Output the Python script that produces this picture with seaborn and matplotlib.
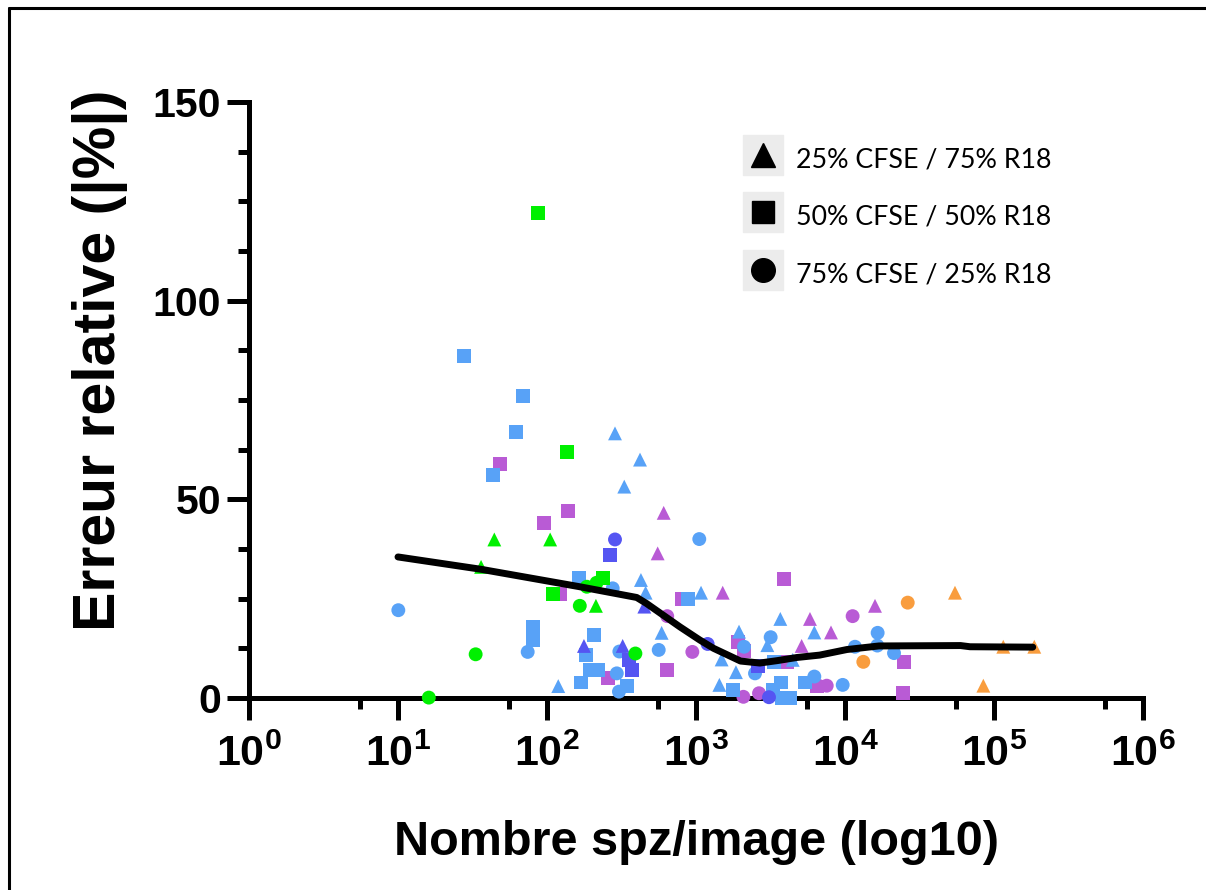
import numpy as np
import pandas as pd
import matplotlib
matplotlib.use("Agg")
import matplotlib.pyplot as plt
import seaborn as sns
from matplotlib.lines import Line2D
from matplotlib.legend_handler import HandlerTuple
from matplotlib.ticker import FixedLocator, MultipleLocator, FuncFormatter, NullFormatter

# ---------------- data ----------------
# each entry: (spz per image, relative error |%|, shape)
green_pts = [
    (87, 122, "sq"), (137, 62, "sq"), (44.3, 39.9, "tri"), (105, 39.9, "tri"),
    (36.1, 33.0, "tri"), (236, 30.1, "sq"), (215, 29.0, "circ"), (185, 28.0, "circ"),
    (109, 26.1, "sq"), (166, 23.2, "circ"), (213, 23.2, "tri"), (33.2, 11.0, "circ"),
    (392, 11.2, "circ"), (16.1, 0.1, "circ"),
]
lightblue_pts = [
    (27.6, 86.1, "sq"), (69.3, 76.0, "sq"), (62, 67.0, "sq"), (43.6, 56.1, "sq"),
    (164, 30.1, "sq"), (889, 24.9, "sq"), (208, 15.9, "sq"), (80.2, 17.9, "sq"),
    (80.2, 14.6, "sq"), (182, 10.8, "sq"), (194, 7.0, "sq"), (221, 7.0, "sq"),
    (169, 3.9, "sq"), (343, 3.0, "sq"), (3337, 9.0, "sq"), (3700, 3.9, "sq"),
    (5395, 3.9, "sq"), (1781, 2.0, "sq"), (3756, 0.0, "sq"), (4275, 0.0, "sq"),
    (3304, 2.0, "sq"),
    (286, 66.6, "tri"), (421, 60.0, "tri"), (330, 53.2, "tri"), (427, 29.7, "tri"),
    (459, 26.5, "tri"), (1081, 26.5, "tri"), (588, 16.4, "tri"), (119, 3.0, "tri"),
    (3680, 19.9, "tri"), (6225, 16.5, "tri"), (1944, 16.7, "tri"), (3012, 13.3, "tri"),
    (1486, 9.7, "tri"), (1854, 6.5, "tri"), (4460, 9.6, "tri"), (1435, 3.3, "tri"),
    (1052, 40.0, "circ"), (276, 27.6, "circ"), (10.05, 22.1, "circ"), (74.2, 11.6, "circ"),
    (306, 11.7, "circ"), (562, 12.1, "circ"), (294, 6.2, "circ"), (304, 1.6, "circ"),
    (16560, 16.4, "circ"), (3170, 15.3, "circ"), (2100, 12.9, "circ"), (11670, 12.9, "circ"),
    (16480, 13.2, "circ"), (2489, 6.2, "circ"), (21330, 11.3, "circ"), (6225, 5.4, "circ"),
    (9650, 3.3, "circ"),
]
purple_pts = [
    (48.4, 59.0, "sq"), (138, 47.1, "sq"), (95.9, 44.0, "sq"), (122, 26.1, "sq"),
    (801, 24.9, "sq"), (255, 5.0, "sq"), (635, 7.0, "sq"), (3875, 30.0, "sq"),
    (1923, 14.0, "sq"), (2110, 11.8, "sq"), (4100, 9.0, "sq"), (25000, 9.0, "sq"),
    (6500, 2.9, "sq"), (24380, 1.2, "sq"),
    (607, 46.6, "tri"), (553, 36.4, "tri"), (1511, 26.5, "tri"), (15900, 23.2, "tri"),
    (5820, 19.9, "tri"), (8055, 16.5, "tri"), (5117, 13.1, "tri"),
    (641, 20.6, "circ"), (945, 11.6, "circ"), (11250, 20.6, "circ"), (6620, 3.1, "circ"),
    (7540, 3.1, "circ"), (2080, 0.3, "circ"), (2648, 1.2, "circ"),
]
violet_pts = [
    (286, 39.9, "circ"), (1197, 13.6, "circ"), (3090, 0.2, "circ"),
    (265, 36.0, "sq"), (357, 9.6, "sq"), (374, 7.0, "sq"), (2618, 8.1, "sq"),
    (450, 23.0, "tri"), (177, 13.1, "tri"), (322, 13.1, "tri"),
]
orange_pts = [
    (26360, 24.0, "circ"), (13270, 9.1, "circ"),
    (54720, 26.5, "tri"), (115400, 12.9, "tri"), (186400, 12.9, "tri"), (84800, 3.1, "tri"),
]

# smoothed trend curve
curve_x = [10, 36, 166, 400, 465, 780, 1060, 1312, 1990, 2680, 3500, 4765,
           6770, 10300, 16900, 59600, 69000, 182000]
curve_y = [35.5, 32.4, 28.0, 25.3, 23.8, 17.9, 14.6, 12.5, 9.3, 8.8, 9.4, 10.2,
           10.8, 12.2, 13.1, 13.2, 12.9, 12.8]

legend_labels = ["25% CFSE / 75% R18", "50% CFSE / 50% R18", "75% CFSE / 25% R18"]
y_ticks = [0, 50, 100, 150]
x_decades = [0, 1, 2, 3, 4, 5, 6]

group_colors = {
    "vert": "#00f000",
    "bleu clair": "#58a2f7",
    "violet": "#b95bd5",
    "bleu": "#5555f2",
    "orange": "#f99d3e",
}
shape_markers = {"tri": "^", "sq": "s", "circ": "o"}

rows = []
for name, pts in [("violet", purple_pts), ("bleu clair", lightblue_pts),
                  ("bleu", violet_pts), ("vert", green_pts), ("orange", orange_pts)]:
    for x, y, s in pts:
        rows.append({"x": x, "y": y, "shape": s, "group": name})
df = pd.DataFrame(rows)

# ---------------- figure ----------------
sns.set_style("ticks")
plt.rcParams["font.family"] = ["Liberation Sans", "DejaVu Sans"]
plt.rcParams["text.color"] = "black"
plt.rcParams["axes.labelcolor"] = "black"
plt.rcParams["mathtext.fontset"] = "custom"
plt.rcParams["mathtext.rm"] = "Liberation Sans:bold"
plt.rcParams["mathtext.bf"] = "Liberation Sans:bold"
plt.rcParams["mathtext.it"] = "Liberation Sans:bold"

W, H = 1206, 890
fig = plt.figure(figsize=(W / 100, H / 100), dpi=100)
ax = fig.add_axes([249 / W, 1 - 698 / H, (1143 - 249) / W, (698 - 102) / H])

sns.scatterplot(data=df, x="x", y="y", hue="group", style="shape",
                palette=group_colors, markers=shape_markers, s=100,
                linewidth=0, legend=False, clip_on=False, zorder=3, ax=ax)
sns.lineplot(x=curve_x, y=curve_y, color="black", lw=5, ax=ax, zorder=4)

ax.set_xscale("log")
ax.set_xlim(1, 1e6)
ax.set_ylim(0, 150)

for side in ["top", "right"]:
    ax.spines[side].set_visible(False)
for side in ["left", "bottom"]:
    ax.spines[side].set_linewidth(3.6)
    ax.spines[side].set_color("black")
    ax.spines[side].set_capstyle("projecting")

ax.xaxis.set_major_locator(FixedLocator([10.0 ** k for k in x_decades]))
ax.xaxis.set_minor_locator(FixedLocator([10.0 ** (k + 0.745) for k in x_decades[:-1]]))
ax.xaxis.set_major_formatter(FuncFormatter(lambda v, p: r"$\mathbf{10^{%d}}$" % round(np.log10(v))))
ax.xaxis.set_minor_formatter(NullFormatter())
ax.yaxis.set_major_locator(FixedLocator(y_ticks))
ax.yaxis.set_minor_locator(MultipleLocator(12.5))

ax.tick_params(axis="both", which="both", bottom=True, left=True, top=False, right=False)
ax.tick_params(axis="both", which="major", direction="out", length=16, width=3.6,
               color="black", labelcolor="black")
ax.tick_params(axis="both", which="minor", direction="out", length=8, width=3.6, color="black")
ax.tick_params(axis="x", which="major", pad=10, labelsize=31)
ax.tick_params(axis="y", which="major", pad=4, labelsize=29.5)
for lab in ax.get_yticklabels():
    lab.set_fontweight("bold")

ax.set_xlabel("Nombre spz/image (log10)", fontsize=35, fontweight="bold", labelpad=0, color="black")
ax.set_ylabel("Erreur relative (|%|)", fontsize=42.5, fontweight="bold", labelpad=0, color="black")
ax.xaxis.set_label_coords(0.501, -0.205)
ax.yaxis.set_label_coords(-0.135, 0.567)

# legend: black markers on light grey squares
bg = dict(marker="s", markersize=29, color="#ececec", linestyle="none")
handles = [
    (Line2D([], [], **bg), Line2D([], [], marker="^", markersize=17, color="black", linestyle="none")),
    (Line2D([], [], **bg), Line2D([], [], marker="s", markersize=16, color="black", linestyle="none")),
    (Line2D([], [], **bg), Line2D([], [], marker="o", markersize=17, color="black", linestyle="none")),
]
leg = fig.legend(handles, legend_labels, handler_map={tuple: HandlerTuple(ndivide=1, pad=0)},
                 loc="upper left", bbox_to_anchor=(743 / W, 1 - 142 / H), frameon=False,
                 prop={"family": "Lato", "size": 19.3}, handlelength=1.49, handleheight=1.49,
                 handletextpad=0.5, labelspacing=0.94, borderpad=0, borderaxespad=0,
                 labelcolor="black")

# outer frame (left and top edges visible in the reference)
fig.add_artist(Line2D([9 / W, 9 / W], [0, 1 - 8 / H], transform=fig.transFigure,
                      color="black", lw=2.2))
fig.add_artist(Line2D([9 / W, 1], [1 - 8 / H, 1 - 8 / H], transform=fig.transFigure,
                      color="black", lw=2.2))

fig.savefig("out.png", dpi=100)
